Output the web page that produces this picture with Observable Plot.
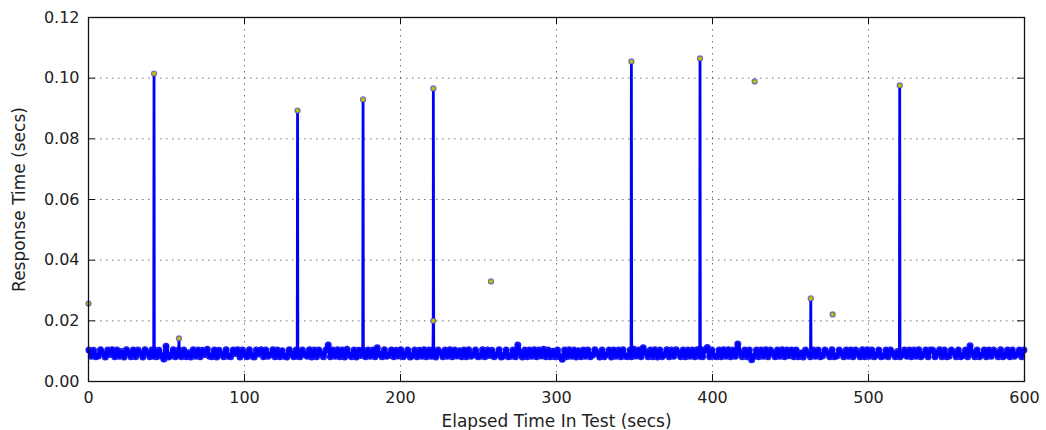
<!DOCTYPE html>
<html><head><meta charset="utf-8">
<script src="https://cdn.jsdelivr.net/npm/d3@7"></script>
<script src="https://cdn.jsdelivr.net/npm/@observablehq/plot@0.6"></script>
<style>body{margin:0;background:#fff;}</style>
</head><body><div id="chart"></div>
<script>
// ---- data ----
const bandTimes = [
0.3,1.8,3.2,4.7,6.3,7.7,9.2,10.8,12.3,13.7,15.2,16.8,18.3,19.7,21.2,22.8,24.3,25.7,27.2,28.7,
30.2,31.7,33.3,34.8,36.2,37.7,39.3,40.6,41.8,42.2,43.7,45.2,46.8,48.3,49.7,51.2,52.8,54.3,55.7,57.2,57.8,58.2,59.6,
61.1,62.7,64.2,65.6,67.1,68.7,70.2,71.6,73.1,74.7,76.2,77.6,79.1,80.7,82.2,83.6,85.1,86.7,88.2,89.6,
91.1,92.7,94.2,95.6,97.1,98.7,100.2,101.6,103.1,104.7,106.2,107.6,109.1,110.7,112.2,113.6,115.1,116.7,118.2,119.6,
121.1,122.7,124.2,125.6,127.1,128.7,130.2,131.6,133.1,133.8,134.2,135.6,137.1,138.7,140.2,141.6,143.1,144.7,146.2,147.6,149.1,
150.6,152.2,153.7,155.1,156.6,158.2,159.7,161.1,162.6,164.2,165.7,167.1,168.6,170.2,171.7,173.1,174.6,175.8,176.2,177.6,179.1,
180.6,182.2,183.7,185.1,186.6,188.2,189.7,191.1,192.6,194.2,195.7,197.1,198.6,200.2,201.7,203.1,204.6,206.2,207.7,209.1,
210.6,212.2,213.7,215.1,216.6,218.2,219.7,220.8,221.3,222.6,224.1,225.7,227.2,228.6,230.1,231.7,233.2,234.6,236.1,237.7,239.2,
240.6,242.1,243.7,245.2,246.6,248.1,249.7,251.2,252.6,254.1,255.7,257.2,258.6,260.1,261.7,263.2,264.6,266.1,267.7,269.2,
270.6,272.1,273.7,275.2,276.6,278.1,279.7,281.2,282.6,284.1,285.7,287.2,288.6,290.1,291.7,293.2,294.6,296.1,297.7,299.2,
300.6,302.1,303.7,305.2,306.6,308.1,309.7,311.2,312.6,314.1,315.7,317.2,318.6,320.1,321.7,323.2,324.6,326.1,327.7,329.2,
330.6,332.1,333.7,335.2,336.6,338.1,339.7,341.2,342.6,344.1,345.7,347.2,347.8,348.2,349.6,351.1,352.7,354.2,355.6,357.1,358.7,
360.2,361.6,363.1,364.7,366.2,367.6,369.1,370.7,372.2,373.6,375.1,376.7,378.2,379.6,381.1,382.7,384.2,385.6,387.1,388.7,390.2,391.8,392.2,
393.6,395.1,396.7,398.2,399.6,401.1,402.7,404.2,405.6,407.1,408.7,410.2,411.6,413.1,414.7,416.2,417.6,419.1,420.7,422.2,
423.6,425.1,426.7,428.2,429.6,431.1,432.7,434.2,435.6,437.1,438.7,440.2,441.6,443.1,444.7,446.2,447.6,449.1,450.7,452.2,
453.6,455.1,456.7,458.2,459.6,461.1,462.8,463.2,464.6,466.1,467.7,469.2,470.6,472.1,473.7,475.2,476.6,478.1,479.7,481.2,
482.6,484.1,485.7,487.2,488.6,490.1,491.7,493.2,494.6,496.1,497.7,499.2,500.6,502.1,503.7,505.2,506.6,508.1,509.7,511.2,
512.6,514.1,515.7,517.2,518.6,519.8,520.2,521.6,523.1,524.7,526.2,527.6,529.1,530.7,532.2,533.6,535.1,536.7,538.2,539.6,
541.1,542.7,544.2,545.6,547.1,548.7,550.2,551.6,553.1,554.7,556.2,557.6,559.1,560.7,562.2,563.6,565.1,566.7,568.2,569.6,
571.1,572.7,574.2,575.6,577.1,578.7,580.2,581.6,583.1,584.7,586.2,587.6,589.1,590.7,592.2,593.6,595.1,596.7,598.2,599.6
];
const bandValues = [
0.0104,0.0083,0.0103,0.0082,0.0084,0.0105,0.0093,0.0081,0.0104,0.0089,0.0105,0.0082,0.0104,0.0083,0.0099,0.0081,0.0105,0.0094,0.0082,0.0104,
0.0082,0.0104,0.0092,0.0081,0.0105,0.0095,0.0082,0.0104,0.0083,0.0105,0.0082,0.0103,0.0084,0.0074,0.0116,0.0081,0.0084,0.0105,0.0082,0.0086,0.0104,0.0094,0.0082,
0.0104,0.0082,0.0095,0.0081,0.0105,0.0083,0.0104,0.0082,0.0103,0.0089,0.0106,0.0083,0.0082,0.0104,0.0081,0.0103,0.0090,0.0082,0.0105,0.0083,
0.0082,0.0104,0.0092,0.0105,0.0081,0.0104,0.0089,0.0082,0.0105,0.0084,0.0081,0.0104,0.0091,0.0105,0.0082,0.0104,0.0083,0.0088,0.0105,0.0082,
0.0104,0.0082,0.0101,0.0083,0.0081,0.0105,0.0090,0.0082,0.0104,0.0083,0.0101,0.0082,0.0104,0.0089,0.0083,0.0105,0.0081,0.0104,0.0082,0.0104,0.0091,
0.0082,0.0104,0.0120,0.0082,0.0104,0.0083,0.0105,0.0082,0.0104,0.0081,0.0106,0.0088,0.0082,0.0104,0.0081,0.0103,0.0086,0.0104,0.0102,0.0082,0.0104,
0.0083,0.0104,0.0082,0.0111,0.0090,0.0082,0.0105,0.0083,0.0086,0.0104,0.0082,0.0103,0.0084,0.0105,0.0082,0.0088,0.0104,0.0081,0.0085,0.0104,
0.0082,0.0103,0.0083,0.0105,0.0082,0.0104,0.0083,0.0104,0.0092,0.0081,0.0104,0.0095,0.0082,0.0104,0.0083,0.0105,0.0082,0.0104,0.0084,0.0101,0.0082,
0.0104,0.0082,0.0105,0.0083,0.0087,0.0104,0.0082,0.0083,0.0105,0.0082,0.0104,0.0086,0.0103,0.0082,0.0088,0.0105,0.0081,0.0084,0.0104,0.0082,
0.0083,0.0104,0.0082,0.0120,0.0095,0.0081,0.0104,0.0082,0.0104,0.0083,0.0105,0.0082,0.0104,0.0084,0.0106,0.0082,0.0104,0.0082,0.0100,0.0082,
0.0104,0.0082,0.0073,0.0104,0.0082,0.0105,0.0083,0.0104,0.0081,0.0101,0.0082,0.0104,0.0083,0.0104,0.0082,0.0087,0.0105,0.0094,0.0081,0.0104,
0.0082,0.0088,0.0104,0.0081,0.0104,0.0083,0.0104,0.0082,0.0105,0.0083,0.0082,0.0104,0.0095,0.0082,0.0106,0.0084,0.0104,0.0082,0.0111,0.0096,0.0082,
0.0104,0.0082,0.0105,0.0081,0.0104,0.0082,0.0087,0.0105,0.0082,0.0104,0.0083,0.0105,0.0094,0.0082,0.0104,0.0082,0.0104,0.0083,0.0104,0.0082,0.0105,0.0083,0.0106,
0.0082,0.0104,0.0112,0.0082,0.0104,0.0083,0.0082,0.0104,0.0082,0.0105,0.0083,0.0105,0.0082,0.0104,0.0083,0.0124,0.0094,0.0082,0.0104,0.0082,
0.0104,0.0072,0.0083,0.0104,0.0082,0.0104,0.0083,0.0105,0.0082,0.0104,0.0093,0.0082,0.0104,0.0083,0.0105,0.0082,0.0104,0.0085,0.0104,0.0082,
0.0104,0.0082,0.0094,0.0081,0.0104,0.0092,0.0082,0.0089,0.0104,0.0083,0.0104,0.0082,0.0085,0.0104,0.0093,0.0082,0.0105,0.0082,0.0084,0.0104,
0.0094,0.0082,0.0104,0.0083,0.0104,0.0082,0.0104,0.0092,0.0082,0.0105,0.0082,0.0105,0.0083,0.0104,0.0082,0.0088,0.0104,0.0082,0.0084,0.0104,
0.0082,0.0104,0.0092,0.0082,0.0099,0.0094,0.0082,0.0087,0.0104,0.0083,0.0104,0.0082,0.0104,0.0083,0.0105,0.0082,0.0088,0.0104,0.0082,0.0104,
0.0104,0.0082,0.0093,0.0105,0.0082,0.0104,0.0082,0.0083,0.0104,0.0095,0.0082,0.0104,0.0082,0.0086,0.0104,0.0082,0.0118,0.0091,0.0082,0.0104,
0.0082,0.0087,0.0104,0.0082,0.0104,0.0083,0.0104,0.0094,0.0082,0.0105,0.0082,0.0086,0.0104,0.0082,0.0104,0.0083,0.0089,0.0104,0.0082,0.0104
];
const spikeTimes  = [42, 58, 134, 176, 221, 221.05, 348, 392, 463, 520];
const spikeValues = [0.1015, 0.0142, 0.0893, 0.0930, 0.0200, 0.0966, 0.1055, 0.1065, 0.0274, 0.0976];
const loneTimes  = [0, 258, 427, 477];
const loneValues = [0.0257, 0.0330, 0.0989, 0.0221];
const xTicks = [0, 100, 200, 300, 400, 500, 600];
const yTicks = [0, 0.02, 0.04, 0.06, 0.08, 0.10, 0.12];
const xLabel = "Elapsed Time In Test (secs)";
const yLabel = "Response Time (secs)";

// ---- build tables ----
const n = Math.min(bandTimes.length, bandValues.length);
const band = d3.range(n).map(i => ({t: bandTimes[i], v: bandValues[i]}));
const spikes = spikeTimes.map((t, i) => ({t, v: spikeValues[i]}));
const series = band.concat(spikes).sort((a, b) => a.t - b.t);
const lone = loneTimes.map((t, i) => ({t, v: loneValues[i]}));

const W = 1046, H = 430, mL = 88, mR = 22, mT = 17, mB = 49;
const iW = W - mL - mR, iH = H - mT - mB, tk = 7;
const gridStyle = {stroke: "#000", strokeOpacity: 0.55, strokeWidth: 1, strokeDasharray: "1.5,4.5"};
const bandDot = {x: "t", y: "v", r: 2.8, fill: "#bfbf00", stroke: "#1a1aff", strokeWidth: 1.4};
const peakDot = {x: "t", y: "v", r: 2.6, fill: "#bfbf00", stroke: "#3030ff", strokeOpacity: 0.65, strokeWidth: 1.1};

const chart = Plot.plot({
  width: W, height: H,
  marginLeft: mL, marginRight: mR, marginTop: mT, marginBottom: mB,
  x: {domain: [0, 600]},
  y: {domain: [0, 0.12]},
  style: {fontFamily: "'DejaVu Sans', sans-serif", fontSize: "16px", color: "#222", background: "#fff"},
  marks: [
    Plot.gridX(xTicks.slice(1, -1), gridStyle),
    Plot.gridY(yTicks.slice(1, -1), gridStyle),
    Plot.dot(band, bandDot),
    Plot.line(band, {x: "t", y: "v", stroke: "#0000ff", strokeWidth: 4.5, strokeLinejoin: "round", curve: "linear"}),
    Plot.line(series, {x: "t", y: "v", stroke: "#0000ff", strokeWidth: 2.8, curve: "linear"}),
    Plot.dot(spikes, peakDot),
    Plot.dot(lone, peakDot),
    Plot.frame({stroke: "#111", strokeWidth: 1.3}),
    Plot.tickX(xTicks, {x: d => d, insetTop: iH - tk, stroke: "#111"}),
    Plot.tickX(xTicks, {x: d => d, insetBottom: iH - tk, stroke: "#111"}),
    Plot.tickY(yTicks, {y: d => d, insetRight: iW - tk, stroke: "#111"}),
    Plot.tickY(yTicks, {y: d => d, insetLeft: iW - tk, stroke: "#111"}),
    Plot.axisX(xTicks, {tickSize: 0, tickPadding: 10, tickFormat: d => String(d), fontSize: 16, label: null}),
    Plot.axisX([], {tickSize: 0, label: xLabel, labelAnchor: "center", labelOffset: 45, labelArrow: "none", fontSize: 17}),
    Plot.axisY(yTicks, {tickSize: 0, tickPadding: 9, tickFormat: d3.format(".2f"), fontSize: 16, label: null}),
    Plot.axisY([], {tickSize: 0, label: yLabel, labelAnchor: "center", labelOffset: 76, labelArrow: "none", fontSize: 17})
  ]
});
document.getElementById("chart").appendChild(chart);
</script>
</body></html>
